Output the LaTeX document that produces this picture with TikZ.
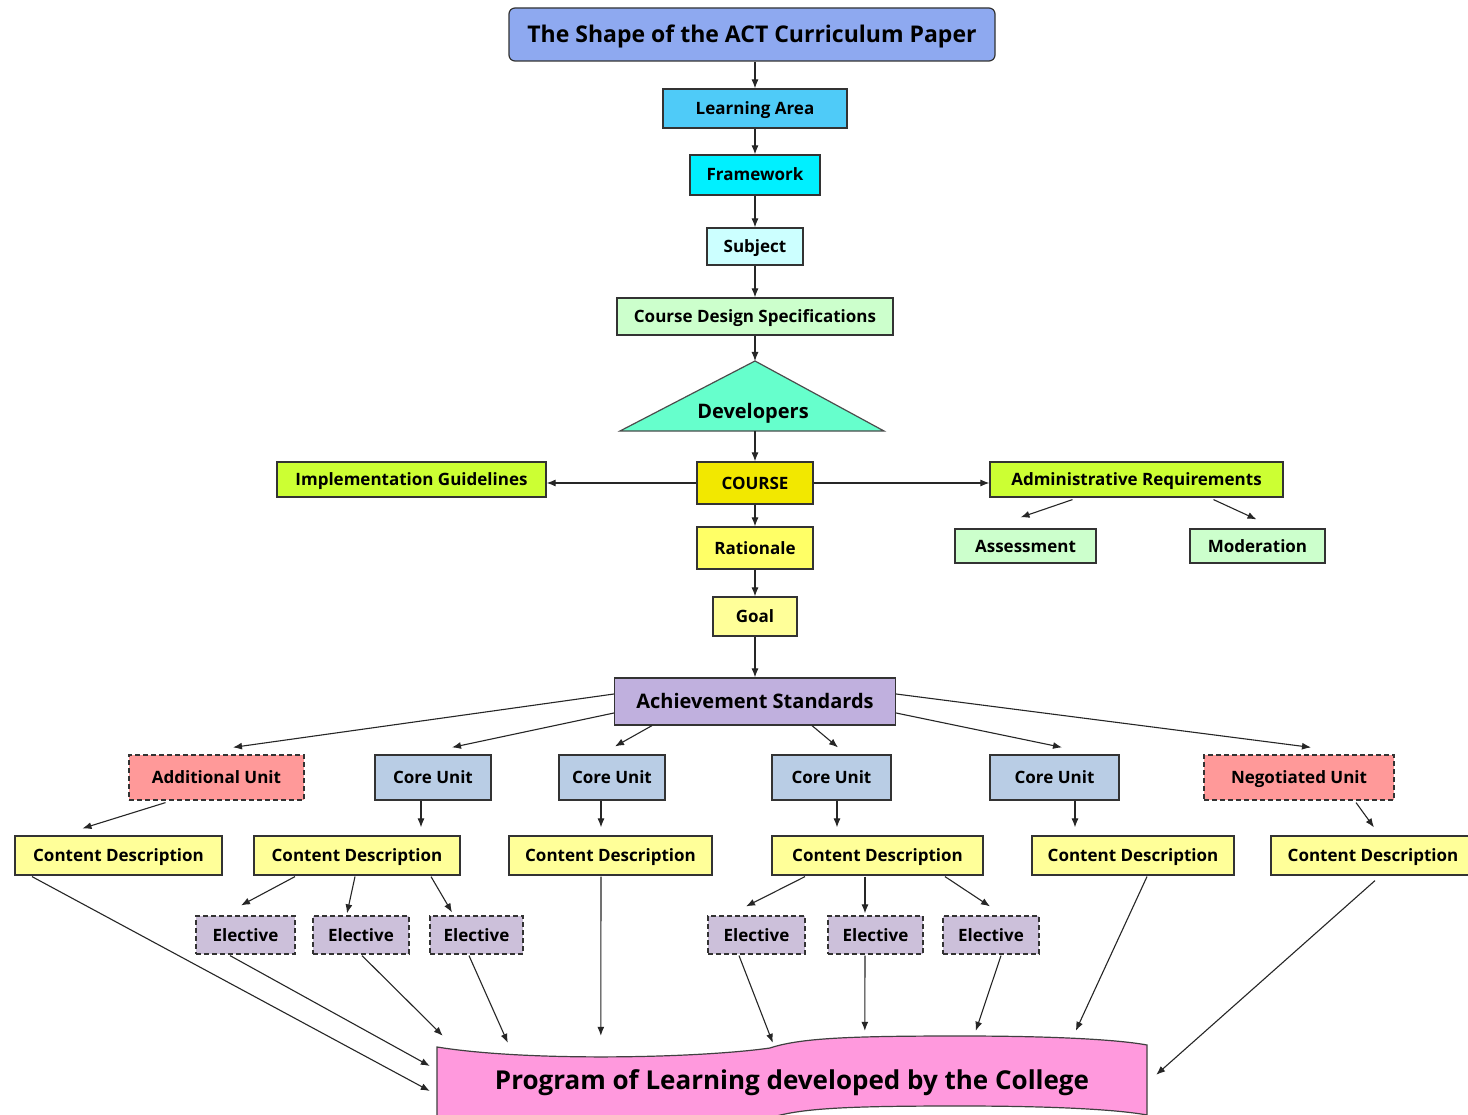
\documentclass[tikz,border=0pt]{standalone}
\usepackage{fontspec}
\setmainfont{Open Sans}
\usepackage{xcolor}
\usetikzlibrary{arrows.meta,calc}
\definecolor{titleblue}{RGB}{142,169,240}
\definecolor{areablue}{RGB}{79,203,248}
\definecolor{frameblue}{RGB}{0,240,255}
\definecolor{subjblue}{RGB}{204,255,255}
\definecolor{palegreen}{RGB}{204,255,204}
\definecolor{devgreen}{RGB}{102,255,204}
\definecolor{courseyel}{RGB}{242,232,0}
\definecolor{limegreen}{RGB}{204,255,51}
\definecolor{ratyel}{RGB}{255,255,102}
\definecolor{paleyel}{RGB}{255,255,153}
\definecolor{achlilac}{RGB}{192,176,222}
\definecolor{unitred}{RGB}{255,153,153}
\definecolor{coreblue}{RGB}{185,205,229}
\definecolor{elelilac}{RGB}{204,192,218}
\definecolor{progpink}{RGB}{255,153,221}

\begin{document}
\begin{tikzpicture}[x = 1pt, y = -1pt,
  box/.style = {draw = black!80, line width = 1.2pt, inner sep = 0pt, text = black, text height = 15pt, text depth = 3pt, font = {\bfseries\fontsize{17}{20}\selectfont}},
  bigbox/.style = {text height = 17pt, text depth = 3pt, font = {\bfseries\fontsize{20}{24}\selectfont}},
  dbox/.style = {box, dash pattern = on 5pt off 3pt},
  arr/.style = {-{Latex[length=9pt,width=7pt]}, line width = 1.1pt, black!85}]
\clip (0,0) rectangle (1468,1115);
\fill[white] (0,0) rectangle (1468,1115);

% top chain
\node[box, rounded corners = 6pt, fill = titleblue, minimum width = 486, minimum height = 53, text height = 19pt, font = {\bfseries\fontsize{23}{26}\selectfont}] (title) at (752,34.5) {The Shape of the ACT Curriculum Paper};
\node[box, fill = areablue, minimum width = 184, minimum height = 39] (la) at (755,108.5) {Learning Area};
\node[box, fill = frameblue, minimum width = 130, minimum height = 40] (fw) at (755,175) {Framework};
\node[box, fill = subjblue, minimum width = 96, minimum height = 37] (sub) at (755,246.5) {Subject};
\node[box, fill = palegreen, minimum width = 276, minimum height = 37] (cds) at (755,316.5) {Course Design Specifications};

% developers
\filldraw[fill = devgreen, draw = black!70, line width = 1.2pt] (755,361) -- (884,431) -- (620,431) -- cycle;
\coordinate (devtop) at (755,361);
\coordinate (devbase) at (755,431);
\node[bigbox, inner sep = 0pt] (dev) at (753,411) {Developers};

% course level
\node[box, fill = courseyel, minimum width = 116, minimum height = 42] (course) at (755,483) {COURSE};
\node[box, fill = limegreen, minimum width = 269, minimum height = 35] (impl) at (411.5,479.5) {Implementation Guidelines};
\node[box, fill = limegreen, minimum width = 293, minimum height = 35] (adm) at (1136.5,479.5) {Administrative Requirements};
\node[box, fill = palegreen, minimum width = 141, minimum height = 34] (assess) at (1025.5,546) {Assessment};
\node[box, fill = palegreen, minimum width = 135, minimum height = 34] (mod) at (1257.5,546) {Moderation};
\node[box, fill = ratyel, minimum width = 116, minimum height = 42] (rat) at (755,548) {Rationale};
\node[box, fill = paleyel, minimum width = 84, minimum height = 39] (goal) at (755,616.5) {Goal};
\node[box, bigbox, fill = achlilac, minimum width = 281, minimum height = 47] (ach) at (755,701.5) {Achievement Standards};

% units
\node[dbox, fill = unitred, minimum width = 175, minimum height = 45] (add) at (216.5,777.5) {Additional Unit};
\node[box, fill = coreblue, minimum width = 116, minimum height = 45] (cu1) at (433,777.5) {Core Unit};
\node[box, fill = coreblue, minimum width = 106, minimum height = 45] (cu2) at (612,777.5) {Core Unit};
\node[box, fill = coreblue, minimum width = 119, minimum height = 45] (cu3) at (831.5,777.5) {Core Unit};
\node[box, fill = coreblue, minimum width = 129, minimum height = 45] (cu4) at (1054.5,777.5) {Core Unit};
\node[dbox, fill = unitred, minimum width = 190, minimum height = 45] (neg) at (1299,777.5) {Negotiated Unit};

% content descriptions
\node[box, fill = paleyel, minimum width = 207, minimum height = 39] (cd1) at (118.5,855.5) {Content Description};
\node[box, fill = paleyel, minimum width = 206, minimum height = 39] (cd2) at (357,855.5) {Content Description};
\node[box, fill = paleyel, minimum width = 203, minimum height = 39] (cd3) at (610.5,855.5) {Content Description};
\node[box, fill = paleyel, minimum width = 211, minimum height = 39] (cd4) at (877.5,855.5) {Content Description};
\node[box, fill = paleyel, minimum width = 202, minimum height = 39] (cd5) at (1133,855.5) {Content Description};
\node[box, fill = paleyel, minimum width = 204, minimum height = 39] (cd6) at (1373,855.5) {Content Description};

% electives
\node[dbox, fill = elelilac, minimum width = 99, minimum height = 38] (e1) at (245.5,935) {Elective};
\node[dbox, fill = elelilac, minimum width = 96, minimum height = 38] (e2) at (361,935) {Elective};
\node[dbox, fill = elelilac, minimum width = 93, minimum height = 38] (e3) at (476.5,935) {Elective};
\node[dbox, fill = elelilac, minimum width = 97, minimum height = 38] (e4) at (756.5,935) {Elective};
\node[dbox, fill = elelilac, minimum width = 95, minimum height = 38] (e5) at (875.5,935) {Elective};
\node[dbox, fill = elelilac, minimum width = 96, minimum height = 38] (e6) at (991,935) {Elective};

% program banner
\filldraw[fill = progpink, draw = black!75, line width = 1.2pt]
  (437,1047) .. controls (530,1062) and (700,1058) .. (770,1048)
  .. controls (800,1038) and (850,1036) .. (960,1036)
  .. controls (1060,1036) and (1120,1040) .. (1147,1045)
  -- (1147,1115) .. controls (1120,1110) and (1060,1106) .. (960,1106)
  .. controls (850,1106) and (800,1108) .. (770,1118)
  .. controls (700,1128) and (530,1132) .. (437,1117) -- cycle;
\node[minimum width = 710, minimum height = 70, inner sep = 0pt, text height = 22pt, text depth = 3pt, font = {\bfseries\fontsize{26}{30}\selectfont}] (prog) at (792,1080) {Program of Learning developed by the College};

% arrows, top part
\draw[arr] (title.south -| la) -- (la.north);
\draw[arr] (la.south) -- (fw.north);
\draw[arr] (fw.south) -- (sub.north);
\draw[arr] (sub.south) -- (cds.north);
\draw[arr] (cds.south) -- (devtop);
\draw[arr] (devbase) -- (course.north);
\draw[arr] (course.west) -- (course.west -| impl.east);
\draw[arr] (course.east) -- (course.east -| adm.west);
\draw[arr] ([shift={(-64,2)}]adm.south) -- ([shift={(-5,-11)}]assess.north);
\draw[arr] ([shift={(77,2)}]adm.south) -- ([shift={(-1,-9)}]mod.north);
\draw[arr] (course.south) -- (rat.north);
\draw[arr] (rat.south) -- (goal.north);
\draw[arr] (goal.south) -- (ach.north);

% achievement standards to units
\draw[arr] ([shift={(0,-7.5)}]ach.west) -- ([shift={(16.5,-7)}]add.north);
\draw[arr] ([shift={(0,11.5)}]ach.west) -- ([shift={(19,-7)}]cu1.north);
\draw[arr] ([shift={(-103,0)}]ach.south) -- ([shift={(3,-8)}]cu2.north);
\draw[arr] ([shift={(57,0)}]ach.south) -- ([shift={(6.5,-7)}]cu3.north);
\draw[arr] ([shift={(0,11.5)}]ach.east) -- ([shift={(7.5,-7)}]cu4.north);
\draw[arr] ([shift={(0,-7.5)}]ach.east) -- ([shift={(12,-7)}]neg.north);

% units to content descriptions
\draw[arr] ([shift={(-51,2)}]add.south) -- ([shift={(-36,-7)}]cd1.north);
\draw[arr] ([shift={(-12,0)}]cu1.south) -- ([shift={(64,-8)}]cd2.north);
\draw[arr] ([shift={(-11,0)}]cu2.south) -- ([shift={(-9.5,-8)}]cd3.north);
\draw[arr] ([shift={(5.5,0)}]cu3.south) -- ([shift={(-40.5,-8)}]cd4.north);
\draw[arr] ([shift={(20.5,0)}]cu4.south) -- ([shift={(-58,-8)}]cd5.north);
\draw[arr] ([shift={(57,2)}]neg.south) -- ([shift={(1,-8)}]cd6.north);

% content descriptions to electives
\draw[arr] ([shift={(-62,1)}]cd2.south) -- ([shift={(-4.5,-10)}]e1.north);
\draw[arr] ([shift={(-2,1)}]cd2.south) -- ([shift={(-14,-2)}]e2.north);
\draw[arr] ([shift={(74,1)}]cd2.south) -- ([shift={(-24.5,-3)}]e3.north);
\draw[arr] ([shift={(-72.5,1)}]cd4.south) -- ([shift={(-10.5,-9)}]e4.north);
\draw[arr] ([shift={(-12.5,1)}]cd4.south) -- ([shift={(-10.5,-2)}]e5.north);
\draw[arr] ([shift={(67.5,1)}]cd4.south) -- ([shift={(-1,-9)}]e6.north);

% everything into the program
\draw[arr] ([shift={(-86.5,1)}]cd1.south) -- ([shift={(-7,11)}]prog.west);
\draw[arr] ([shift={(-15.5,1)}]e1.south) -- ([shift={(-7,-14)}]prog.west);
\draw[arr] ([shift={(1,1)}]e2.south) -- ([shift={(6,-9)}]prog.north west);
\draw[arr] ([shift={(-7.5,1)}]e3.south) -- ([shift={(71,-2)}]prog.north west);
\draw[arr] ([shift={(-9.5,1)}]cd3.south) -- ([shift={(164,-9)}]prog.north west);
\draw[arr] ([shift={(-17.5,1)}]e4.south) -- ([shift={(336,-2)}]prog.north west);
\draw[arr] ([shift={(-10.5,1)}]e5.south) -- ([shift={(428,-14)}]prog.north west);
\draw[arr] ([shift={(10,1)}]e6.south) -- ([shift={(539,-14)}]prog.north west);
\draw[arr] ([shift={(14,1)}]cd5.south) -- ([shift={(639,-14)}]prog.north west);
\draw[arr] ([shift={(2,5)}]cd6.south) -- ([shift={(9,30)}]prog.north east);
\end{tikzpicture}
\end{document}
